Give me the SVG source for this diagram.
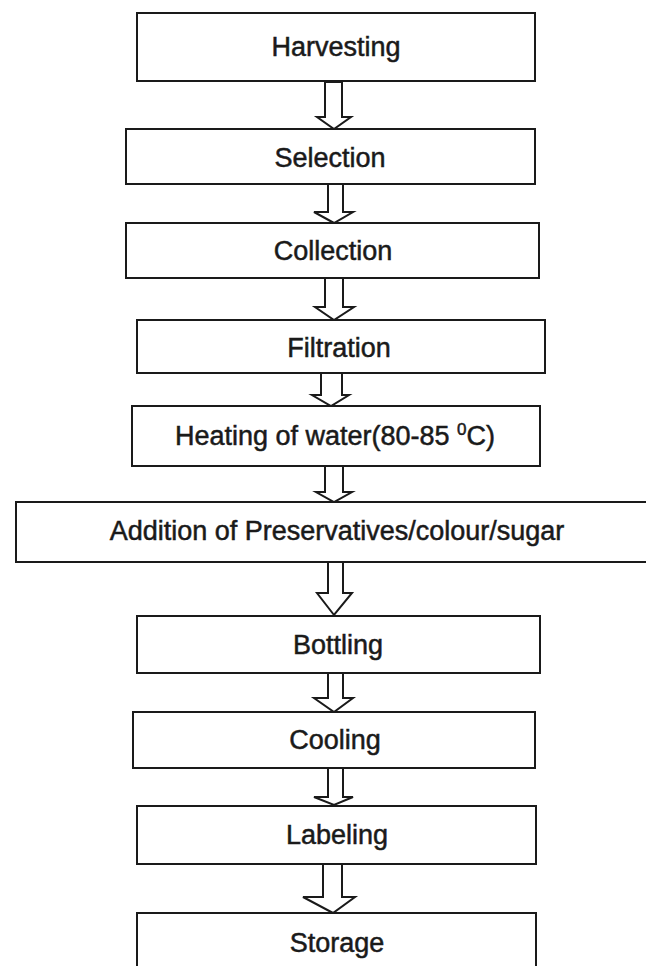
<svg xmlns="http://www.w3.org/2000/svg" width="646" height="966" viewBox="0 0 646 966">
<style>
.box{fill:#fff;stroke:#1a1a1a;stroke-width:2}
.lbl{font-family:"Liberation Sans",Arial,sans-serif;font-size:27px;fill:#1a1a1a;stroke:#1a1a1a;stroke-width:0.5;text-anchor:middle}
.arr{fill:#fff;stroke:#1a1a1a;stroke-width:2;stroke-linejoin:miter}
</style>
<rect width="646" height="966" fill="#fff"/>
<g id="connectors">
<polygon class="arr" points="325,82 325,117 317,117 334,129 351,117 342,117 342,82"/>
<polygon class="arr" points="328,184 328,212 314,212 334,223 353,212 343,212 343,184"/>
<polygon class="arr" points="325,278 325,307 315,307 334,320 354,307 343,307 343,278"/>
<polygon class="arr" points="321,373 321,395 312,395 331,406 349,395 342,395 342,373"/>
<polygon class="arr" points="325,466 325,492 316,492 334,502 352,492 343,492 343,466"/>
<polygon class="arr" points="328,562 328,593 317,593 334,615 352,593 343,593 343,562"/>
<polygon class="arr" points="328,673 328,698 314,698 334,712 353,698 343,698 343,673"/>
<polygon class="arr" points="328,768 328,797 314,797 334,805 353,797 343,797 343,768"/>
<polygon class="arr" points="323,864 323,897 303,897 333,913 355,897 342,897 342,864"/>
</g>
<g id="harvesting"><rect class="box" x="137" y="13" width="398" height="68"/><text class="lbl" x="336" y="56">Harvesting</text></g>
<g id="selection"><rect class="box" x="126" y="129" width="409" height="55"/><text class="lbl" x="330" y="167">Selection</text></g>
<g id="collection"><rect class="box" x="126" y="223" width="413" height="55"/><text class="lbl" x="333" y="260">Collection</text></g>
<g id="filtration"><rect class="box" x="137" y="320" width="408" height="53"/><text class="lbl" x="339" y="357">Filtration</text></g>
<g id="heating"><rect class="box" x="132" y="406" width="408" height="60"/><text class="lbl" x="335" y="445">Heating of water(80-85 <tspan font-size="17" dy="-10">0</tspan><tspan dy="10">C)</tspan></text></g>
<g id="addition"><rect class="box" x="16" y="502" width="644" height="60"/><text class="lbl" x="337" y="540">Addition of Preservatives/colour/sugar</text></g>
<g id="bottling"><rect class="box" x="137" y="616" width="403" height="57"/><text class="lbl" x="338" y="654">Bottling</text></g>
<g id="cooling"><rect class="box" x="133" y="712" width="402" height="56"/><text class="lbl" x="335" y="749">Cooling</text></g>
<g id="labeling"><rect class="box" x="137" y="806" width="399" height="58"/><text class="lbl" x="337" y="844">Labeling</text></g>
<g id="storage"><rect class="box" x="137" y="913" width="399" height="70"/><text class="lbl" x="337" y="952">Storage</text></g>
</svg>
